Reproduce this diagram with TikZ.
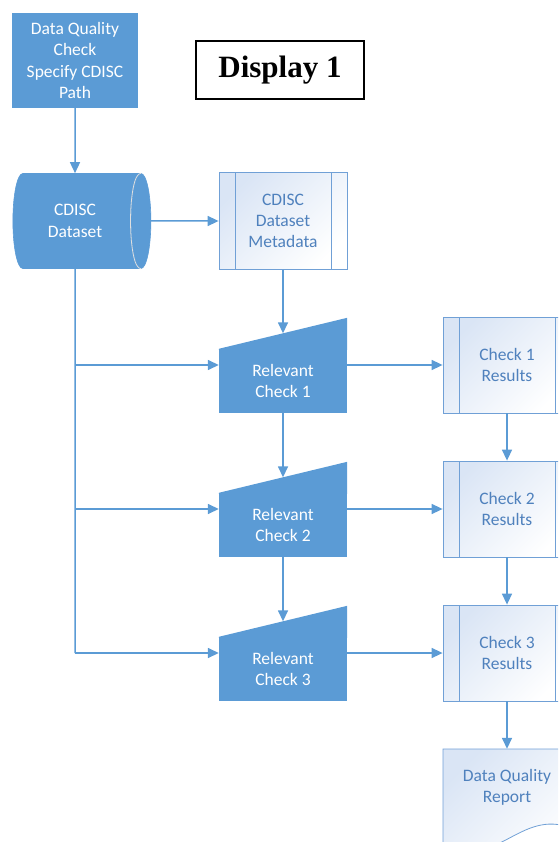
\documentclass[tikz,border=0pt]{standalone}
\usepackage{fontspec}
\setmainfont{Carlito}
\newfontfamily\titlefont{Liberation Serif}
\usetikzlibrary{arrows.meta}
\usetikzlibrary{shapes.geometric}
\definecolor{qblue}{RGB}{91, 155, 213}
\definecolor{qedge}{RGB}{112, 160, 214}
\definecolor{qtext}{RGB}{79, 129, 189}
\definecolor{qlight}{RGB}{218, 229, 245}

\tikzset{
  flow/.style={draw=qblue, line width=1.5pt, -{Triangle[length=11pt,width=10pt]}},
  boxtext/.style={align=center, font=\fontsize{17.5}{21.3}\selectfont},
  process/.style={boxtext, fill=qblue, text=white, minimum width=126pt, minimum height=95pt},
  storeddata/.style={boxtext, cylinder, shape aspect=0.5, cylinder uses custom fill,
    cylinder body fill=qblue, cylinder end fill=qblue, draw=qblue, line width=0.6pt,
    text=white, minimum width=95pt, minimum height=138pt},
  check/.style={boxtext, fill=qblue, text=white, minimum width=128pt, minimum height=64pt},
  subproc/.style={boxtext, draw=qedge, line width=0.8pt, text=qtext,
    top color=qlight, bottom color=white, shading angle=45,
    minimum width=128pt, minimum height=96pt,
    path picture={
      \draw[qedge, line width=0.8pt] ([xshift=16pt]path picture bounding box.north west) -- ([xshift=16pt]path picture bounding box.south west);
      \draw[qedge, line width=0.8pt] ([xshift=-16pt]path picture bounding box.north east) -- ([xshift=-16pt]path picture bounding box.south east);
    }},
}

\begin{document}
\begin{tikzpicture}[x=1pt, y=-1pt]
  \useasboundingbox (0,0) rectangle (558,842);
  \clip (0,0) rectangle (558,842);

  % title and start
  \node[draw, line width=1.6pt, minimum width=168pt, minimum height=58pt, font=\titlefont\bfseries\fontsize{31}{36}\selectfont] (title) at (280,70) {Display 1};
  \node[process] (spec) at (75,60.5) {Data Quality\\Check\\Specify CDISC\\Path};
  \node[storeddata] (dataset) at (75,221) {CDISC\\Dataset};
  \draw[white!75!gray, line width=0.8pt] (dataset.before top) .. controls +(-14pt,0) and +(-14pt,0) .. (dataset.after top);
  \node[subproc, minimum height=97pt] (meta) at (283,221) {CDISC\\Dataset\\Metadata};
  \coordinate (trunk) at (75,653);

  \draw[flow] (spec.south) -- (dataset.north);
  \draw[flow] (dataset.east) -- (meta.west);
  \draw[qblue, line width=1.5pt] (dataset.south) -- (trunk);

  % checks and results
  \foreach \i/\y in {1/365, 2/509, 3/653} {
    \node[check] (rc\i) at (283,\y+16) {Relevant\\Check \i};
    \fill[qblue] (rc\i.north west) -- ([yshift=31pt]rc\i.north east) -- ([yshift=-1pt]rc\i.north east) -- ([yshift=-1pt]rc\i.north west) -- cycle;
    \node[subproc] (res\i) at (507,\y) {Check \i\\Results};
    \draw[flow] (trunk |- res\i) -- (res\i -| rc\i.west);
    \draw[flow] (rc\i.east |- res\i) -- (res\i.west);
  }
  \draw[flow] (meta.south) -- ([yshift=15.5pt]rc1.north);
  \foreach \i/\j in {1/2, 2/3} {
    \draw[flow] (rc\i.south) -- ([yshift=15.5pt]rc\j.north);
    \draw[flow] (res\i.south) -- (res\j.north);
  }

  % report
  \draw[qedge, line width=0.8pt, top color=qlight, bottom color=white, shading angle=45]
    (443,749) -- (571,749) -- (571,828) .. controls (520,808) and (495,872) .. (443,845) -- cycle;
  \node[boxtext, text=qtext, minimum width=128pt, minimum height=76pt] (report) at (507,787) {Data Quality\\Report};
  \draw[flow] (res3.south) -- (report.north);
\end{tikzpicture}
\end{document}
